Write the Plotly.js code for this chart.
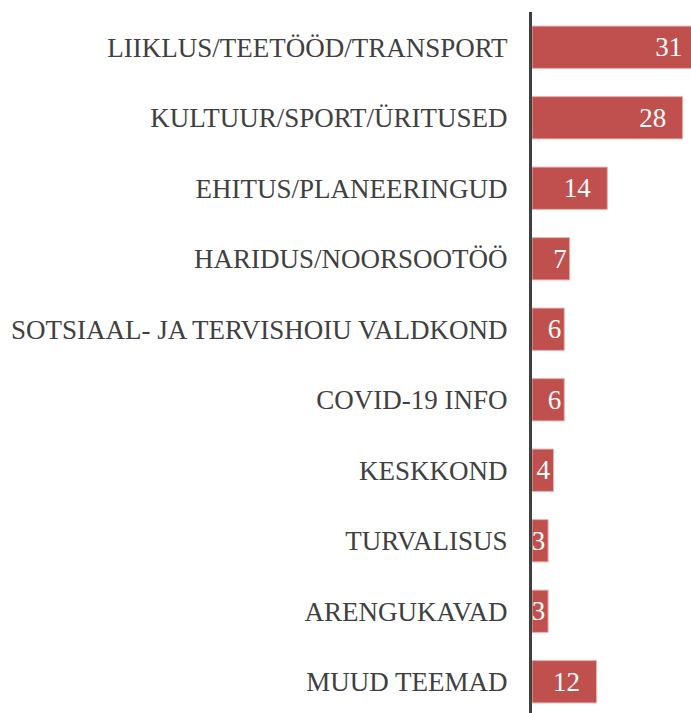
<!DOCTYPE html>
<html>
<head>
<meta charset="utf-8">
<script src="https://cdn.plot.ly/plotly-3.0.1.min.js"></script>
<style>
  html, body { margin: 0; padding: 0; overflow: hidden; background: #ffffff; }
  #chart { width: 691px; height: 717px; }
</style>
</head>
<body>
<div id="chart"></div>
<script>
const categories = [
  "LIIKLUS/TEETÖÖD/TRANSPORT",
  "KULTUUR/SPORT/ÜRITUSED",
  "EHITUS/PLANEERINGUD",
  "HARIDUS/NOORSOOTÖÖ",
  "SOTSIAAL- JA TERVISHOIU VALDKOND",
  "COVID-19 INFO",
  "KESKKOND",
  "TURVALISUS",
  "ARENGUKAVAD",
  "MUUD TEEMAD"
];
const values = [31, 28, 14, 7, 6, 6, 4, 3, 3, 12];

// label text: wider bars get extra inner padding at the end
const labels = values.map(v => v >= 10 ? v + "\u00a0\u00a0" : String(v));

const trace = {
  type: "bar",
  orientation: "h",
  x: values,
  y: categories,
  text: labels,
  textposition: "inside",
  insidetextanchor: "end",
  constraintext: "none",
  textangle: 0,
  insidetextfont: { family: "Liberation Serif, Times New Roman, serif", size: 27, color: "#ffffff" },
  marker: { color: "#C0504D", line: { color: "#E9B3B1", width: 1 } },
  hoverinfo: "none",
  cliponaxis: true
};

const layout = {
  width: 691,
  height: 717,
  margin: { l: 532, r: 0, t: 12, b: 0, pad: 0 },
  paper_bgcolor: "#ffffff",
  plot_bgcolor: "#ffffff",
  showlegend: false,
  bargap: 0.4,
  font: { family: "Liberation Serif, Times New Roman, serif", color: "#404040" },
  xaxis: {
    range: [0, 29.55],
    visible: false,
    showgrid: false,
    zeroline: false,
    fixedrange: true
  },
  yaxis: {
    autorange: "reversed",
    showline: true,
    linecolor: "#404040",
    linewidth: 3,
    ticks: "",
    ticklabelstandoff: 16,
    showgrid: false,
    zeroline: false,
    tickfont: { family: "Liberation Serif, Times New Roman, serif", size: 27, color: "#404040" },
    fixedrange: true
  }
};

Plotly.newPlot("chart", [trace], layout, { displayModeBar: false, staticPlot: true });
</script>
</body>
</html>
